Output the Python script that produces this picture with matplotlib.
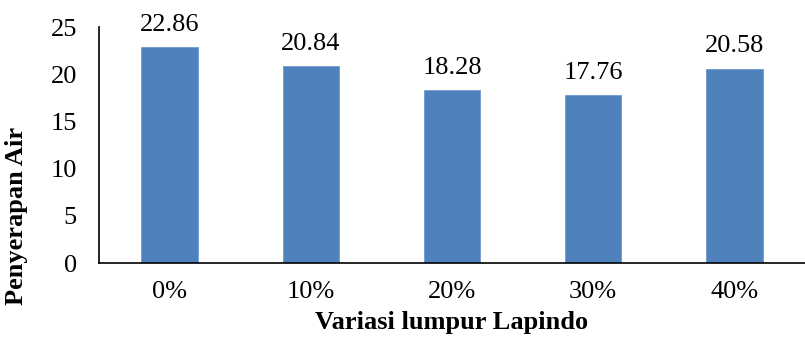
import matplotlib
matplotlib.use("Agg")
from matplotlib import pyplot as plt

categories = ["0%", "10%", "20%", "30%", "40%"]
values = [22.86, 20.84, 18.28, 17.76, 20.58]
value_labels = ["22.86", "20.84", "18.28", "17.76", "20.58"]
yticks = [0, 5, 10, 15, 20, 25]

plt.rcParams["font.family"] = ["Liberation Serif", "DejaVu Serif"]
fs = 19

fig = plt.figure(figsize=(8.05, 3.49), dpi=100)
ax = fig.add_axes([99 / 805, 1 - 263 / 349, 706 / 805, 236 / 349])

bars = ax.bar(range(len(categories)), values, width=0.4, color="#4F81BD",
              edgecolor="#6f9bd0", linewidth=0.6)
for b, lab in zip(bars, value_labels):
    ax.annotate(lab, (b.get_x() + b.get_width() / 2, b.get_height()),
                xytext=(0, 12), textcoords="offset points",
                ha="center", va="baseline", fontsize=fs)

ax.set_xlim(-0.5, len(categories) - 0.5)
ax.set_ylim(0, 25)
ax.set_yticks(yticks)
ax.set_xticks(range(len(categories)))
ax.set_xticklabels(categories)
ax.tick_params(axis="both", length=0, labelsize=fs)
ax.tick_params(axis="x", pad=13)
ax.tick_params(axis="y", pad=16)

for s in ["top", "right"]:
    ax.spines[s].set_visible(False)
ax.spines["left"].set_linewidth(1.2)
ax.spines["bottom"].set_linewidth(1.2)

ax.set_ylabel("Penyerapan Air", fontsize=fs, fontweight="bold")
# title sits lower than the middle of the value axis
ax.yaxis.set_label_coords(-0.10, 0.2)
ax.set_xlabel("Variasi lumpur Lapindo", fontsize=fs, fontweight="bold", labelpad=6)

fig.savefig("out.png", dpi=100)
